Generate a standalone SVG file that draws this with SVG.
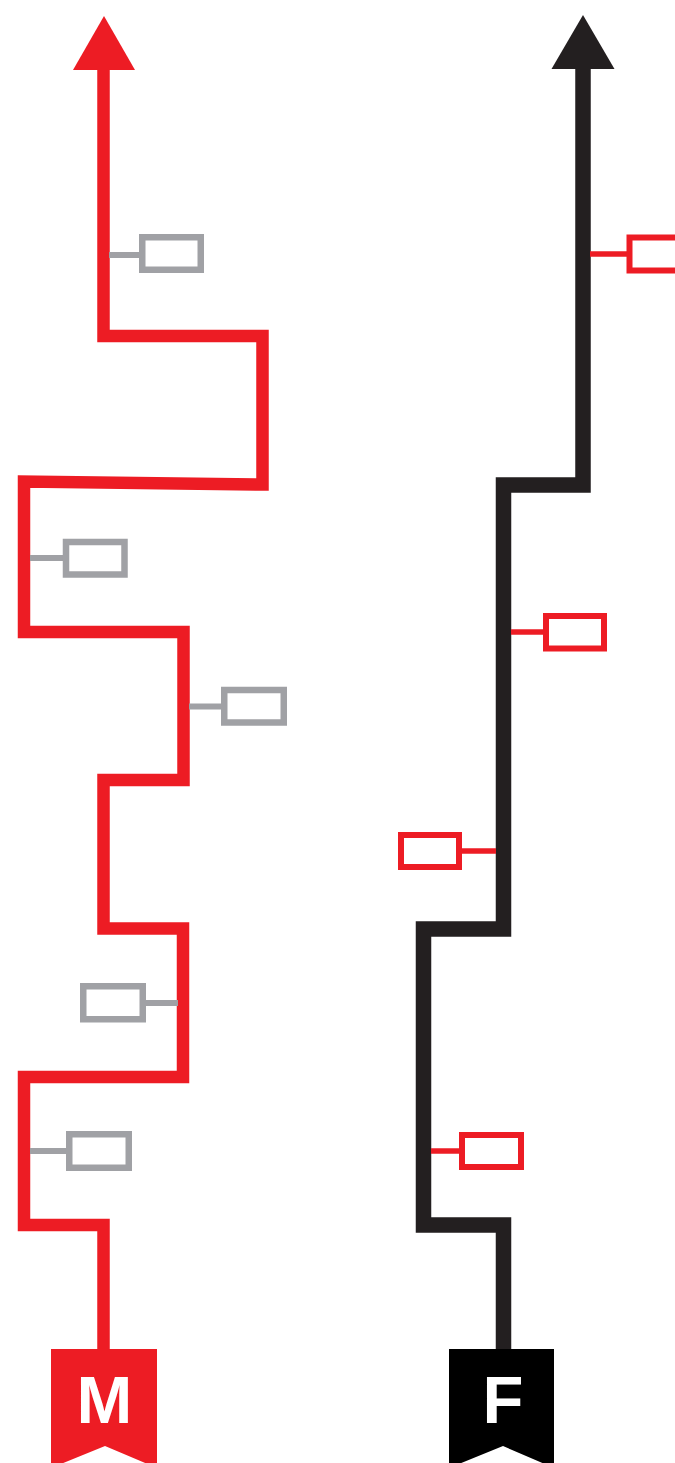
<svg xmlns="http://www.w3.org/2000/svg" width="675" height="1463" viewBox="0 0 675 1463">
<style>
.rline{fill:none;stroke:#ED1C24;stroke-width:12.5;stroke-linejoin:miter;stroke-linecap:butt}
.kline{fill:none;stroke:#231F20;stroke-width:15.5;stroke-linejoin:miter;stroke-linecap:butt}
.gbox{fill:#fff;stroke:#A0A1A5;stroke-width:6.5}
.gcon{stroke:#A0A1A5;stroke-width:6}
.rbox{fill:#fff;stroke:#ED1C24;stroke-width:6}
.rcon{stroke:#ED1C24;stroke-width:5.5}
.lbl{font-family:"Liberation Sans",Arial,sans-serif;font-weight:bold;font-size:67px;fill:#fff;text-anchor:middle}
</style>
<rect width="675" height="1463" fill="#fff"/>
<g id="connectors">
  <polyline class="rline" points="103.5,69 103.5,336 262.5,336 262.5,484.5 24,481.5 24,632 183.5,632 183.5,780 103.5,780 103.5,928.5 183,928.5 183,1077 24,1077 24,1225 103.5,1225 103.5,1352"/>
  <polygon points="104,16 73,70 135,70" fill="#ED1C24"/>
  <polyline class="kline" points="583,68 583,485 503.5,485 503.5,929 423.5,929 423.5,1225 503.5,1225 503.5,1352"/>
  <polygon points="583,15 551.5,69 614.5,69" fill="#231F20"/>
  <line class="gcon" x1="109" y1="255" x2="140" y2="255"/>
  <line class="gcon" x1="30" y1="558" x2="63" y2="558"/>
  <line class="gcon" x1="189" y1="706.5" x2="222" y2="706.5"/>
  <line class="gcon" x1="145" y1="1003" x2="178" y2="1003"/>
  <line class="gcon" x1="30" y1="1151" x2="67" y2="1151"/>
  <line class="rcon" x1="590" y1="254" x2="628" y2="254"/>
  <line class="rcon" x1="511" y1="632" x2="544" y2="632"/>
  <line class="rcon" x1="461" y1="851" x2="496" y2="851"/>
  <line class="rcon" x1="431" y1="1151" x2="460" y2="1151"/>
</g>
<g id="m-box-1"><rect class="gbox" x="142.25" y="237.25" width="58.5" height="32.5"/></g>
<g id="m-box-2"><rect class="gbox" x="66" y="542" width="58.5" height="32.5"/></g>
<g id="m-box-3"><rect class="gbox" x="224.25" y="690" width="59.5" height="32.5"/></g>
<g id="m-box-4"><rect class="gbox" x="83.25" y="986.25" width="59.5" height="33"/></g>
<g id="m-box-5"><rect class="gbox" x="69.25" y="1134.25" width="59.5" height="33.5"/></g>
<g id="f-box-1"><rect class="rbox" x="629.5" y="237.5" width="60" height="33"/></g>
<g id="f-box-2"><rect class="rbox" x="546" y="616" width="58" height="32.5"/></g>
<g id="f-box-3"><rect class="rbox" x="401" y="835" width="58" height="32"/></g>
<g id="f-box-4"><rect class="rbox" x="462" y="1135" width="59" height="32"/></g>
<g id="m-banner">
  <polygon points="51,1349 157,1349 157,1468 105,1446 51,1468" fill="#ED1C24"/>
  <text class="lbl" x="104.5" y="1423">M</text>
</g>
<g id="f-banner">
  <polygon points="449,1349 554,1349 554,1468 503,1446 449,1468" fill="#000"/>
  <text class="lbl" x="503" y="1423">F</text>
</g>
</svg>
